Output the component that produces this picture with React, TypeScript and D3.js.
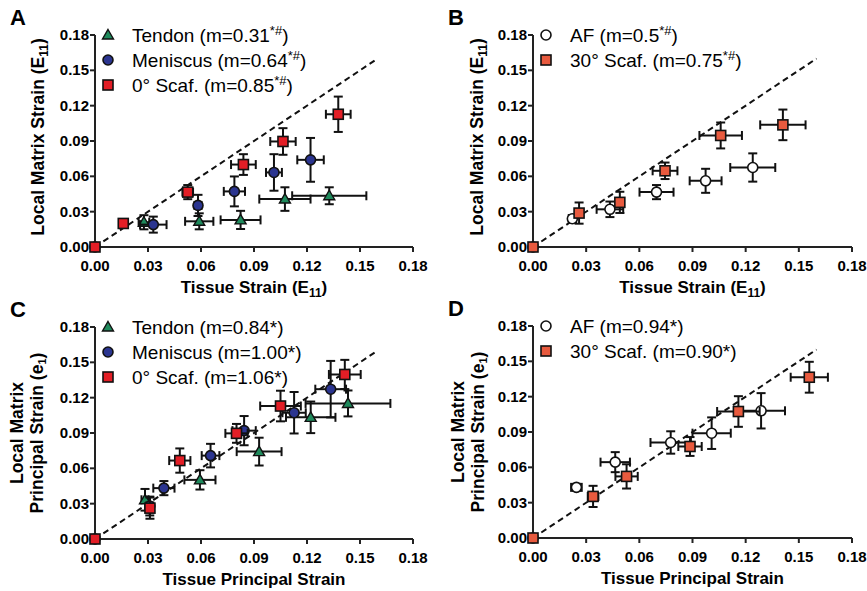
import React from 'react';
import * as d3 from 'd3';

// each point: [x, y, xErr, yErr]
type Pt = [number, number, number, number];

const tickValues = [0, 0.03, 0.06, 0.09, 0.12, 0.15, 0.18];

// panel A: tissue vs local matrix strain (E11)
const tendonA: Pt[] = [
  [0.0277, 0.021, 0.003, 0.006],
  [0.059, 0.0218, 0.008, 0.0068],
  [0.0824, 0.023, 0.0113, 0.0077],
  [0.1075, 0.0407, 0.0145, 0.01],
  [0.1326, 0.0435, 0.021, 0.0072],
];
const meniscusA: Pt[] = [
  [0, 0, 0, 0],
  [0.033, 0.019, 0.0075, 0.0068],
  [0.0583, 0.0353, 0.002, 0.009],
  [0.0789, 0.0472, 0.006, 0.0127],
  [0.1013, 0.0633, 0.0045, 0.0155],
  [0.122, 0.074, 0.0075, 0.0186],
];
const scaf0A: Pt[] = [
  [0, 0, 0, 0],
  [0.016, 0.02, 0.002, 0.002],
  [0.0525, 0.0466, 0.003, 0.006],
  [0.084, 0.07, 0.007, 0.0088],
  [0.1064, 0.0896, 0.0072, 0.0113],
  [0.1377, 0.1127, 0.007, 0.015],
];

// panel B
const afB: Pt[] = [
  [0, 0, 0, 0],
  [0.0222, 0.024, 0.002, 0.003],
  [0.0434, 0.032, 0.0075, 0.0066],
  [0.0697, 0.0466, 0.0096, 0.006],
  [0.0974, 0.0562, 0.009, 0.0102],
  [0.124, 0.0675, 0.0127, 0.012],
];
const scaf30B: Pt[] = [
  [0, 0, 0, 0],
  [0.026, 0.0288, 0.002, 0.009],
  [0.049, 0.0379, 0.002, 0.009],
  [0.0745, 0.0647, 0.007, 0.007],
  [0.1059, 0.0947, 0.012, 0.011],
  [0.141, 0.1037, 0.0128, 0.013],
];

// panel C: principal strain
const tendonC: Pt[] = [
  [0.0283, 0.0333, 0.002, 0.0092],
  [0.0594, 0.0502, 0.0088, 0.0082],
  [0.0929, 0.0742, 0.0127, 0.0118],
  [0.1221, 0.1033, 0.014, 0.0134],
  [0.1432, 0.1151, 0.024, 0.011],
];
const meniscusC: Pt[] = [
  [0, 0, 0, 0],
  [0.031, 0.028, 0.002, 0.008],
  [0.039, 0.0432, 0.006, 0.006],
  [0.0654, 0.0708, 0.005, 0.01],
  [0.0844, 0.092, 0.0066, 0.0124],
  [0.1127, 0.1072, 0.0066, 0.0176],
  [0.1334, 0.1272, 0.0087, 0.024],
];
const scaf0C: Pt[] = [
  [0, 0, 0, 0],
  [0.0311, 0.0262, 0.002, 0.009],
  [0.048, 0.0666, 0.006, 0.0103],
  [0.0801, 0.0897, 0.0063, 0.008],
  [0.105, 0.1129, 0.0115, 0.013],
  [0.1414, 0.1397, 0.009, 0.0124],
];

// panel D
const afD: Pt[] = [
  [0, 0, 0, 0],
  [0.0245, 0.043, 0.003, 0.003],
  [0.0464, 0.0644, 0.0083, 0.0085],
  [0.0777, 0.0811, 0.0114, 0.0095],
  [0.1008, 0.089, 0.0108, 0.0134],
  [0.1287, 0.108, 0.0135, 0.015],
];
const scaf30D: Pt[] = [
  [0, 0, 0, 0],
  [0.0339, 0.0353, 0.003, 0.009],
  [0.0528, 0.0523, 0.0063, 0.0103],
  [0.0886, 0.0777, 0.0066, 0.008],
  [0.1159, 0.1074, 0.012, 0.013],
  [0.1559, 0.1365, 0.0105, 0.0131],
];

const identityLine: [number, number][] = [[0, 0], [0.16, 0.16]];

const FONT = '"Liberation Sans", Arial, sans-serif';
const RED = '#e31e26';
const BLUE = '#2b3590';
const GREEN = '#1f8a5c';
const ORANGE = '#e85a3e';

type Shape = 'square' | 'circle' | 'triangle';

function Marker({ shape, fill, x, y }: { shape: Shape; fill: string; x: number; y: number }) {
  if (shape === 'square')
    return <rect x={x - 5} y={y - 5} width={10} height={10} fill={fill} stroke="#111" strokeWidth={1.6} />;
  if (shape === 'circle')
    return <circle cx={x} cy={y} r={5} fill={fill} stroke="#111" strokeWidth={1.6} />;
  return <path d={`M${x},${y - 5.5}L${x + 5.5},${y + 4}L${x - 5.5},${y + 4}Z`} fill={fill} stroke="#111" strokeWidth={1.4} />;
}

type Series = { name: React.ReactNode; shape: Shape; fill: string; data: Pt[] };

function Panel({ letter, left, right, top, bottom, series, xTitle, yTitle }: {
  letter: string; left: number; right: number; top: number; bottom: number;
  series: Series[]; xTitle: React.ReactNode; yTitle: React.ReactNode;
}) {
  const x = d3.scaleLinear().domain([0, 0.18]).range([left, right]);
  const y = d3.scaleLinear().domain([0, 0.18]).range([bottom, top]);
  const fmt = d3.format('.2f');
  const line = d3.line<[number, number]>().x(d => x(d[0])).y(d => y(d[1]));
  const cap = 4.5;

  return (
    <g fontFamily={FONT}>
      <text x={left - 85} y={top - 10} fontSize={22} fontWeight="bold">{letter}</text>
      {/* axes */}
      <line x1={left} x2={left} y1={top} y2={bottom} stroke="#222" strokeWidth={2} />
      <line x1={left} x2={right} y1={bottom} y2={bottom} stroke="#222" strokeWidth={2} />
      {tickValues.map(t => (
        <g key={'y' + t}>
          <line x1={left - 5} x2={left} y1={y(t)} y2={y(t)} stroke="#222" strokeWidth={2} />
          <text x={left - 6} y={y(t) + 5} textAnchor="end" fontSize={15} fontWeight="bold">{fmt(t)}</text>
        </g>
      ))}
      {tickValues.map(t => (
        <g key={'x' + t}>
          <line x1={x(t)} x2={x(t)} y1={bottom} y2={bottom + 5} stroke="#222" strokeWidth={2} />
          <text x={x(t)} y={bottom + 24} textAnchor="middle" fontSize={15} fontWeight="bold">{fmt(t)}</text>
        </g>
      ))}
      <path d={line(identityLine) || ''} fill="none" stroke="#111" strokeWidth={2} strokeDasharray="6,4" />
      {/* data, first series at the back */}
      {series.map((s, si) => (
        <g key={si}>
          {s.data.map((d, i) => {
            const cx = x(d[0]), cy = y(d[1]);
            const x1 = x(d[0] - d[2]), x2 = x(d[0] + d[2]);
            const y1 = y(d[1] - d[3]), y2 = y(d[1] + d[3]);
            return (
              <g key={i} stroke="#111" strokeWidth={2}>
                {d[2] > 0 && <>
                  <line x1={x1} x2={x2} y1={cy} y2={cy} />
                  <line x1={x1} x2={x1} y1={cy - cap} y2={cy + cap} />
                  <line x1={x2} x2={x2} y1={cy - cap} y2={cy + cap} />
                </>}
                {d[3] > 0 && <>
                  <line x1={cx} x2={cx} y1={y1} y2={y2} />
                  <line x1={cx - cap} x2={cx + cap} y1={y1} y2={y1} />
                  <line x1={cx - cap} x2={cx + cap} y1={y2} y2={y2} />
                </>}
              </g>
            );
          })}
          {s.data.map((d, i) => (
            <Marker key={'m' + i} shape={s.shape} fill={s.fill} x={x(d[0])} y={y(d[1])} />
          ))}
        </g>
      ))}
      {/* legend */}
      {series.map((s, i) => (
        <g key={'l' + i}>
          <Marker shape={s.shape} fill={s.fill} x={left + 13} y={top + i * 25} />
          <text x={left + 37} y={top + i * 25 + 7} fontSize={19}>{s.name}</text>
        </g>
      ))}
      <text x={(left + right) / 2} y={bottom + 46} textAnchor="middle" fontSize={17} fontWeight="bold">{xTitle}</text>
      {yTitle}
    </g>
  );
}

const sup = (s: string) => <tspan fontSize={13} dy={-7}>{s}</tspan>;
const after = (s: string) => <tspan dy={7}>{s}</tspan>;
const E11 = <>(E<tspan fontSize={12} dy={4}>11</tspan><tspan dy={-4}>)</tspan></>;

function YTitleOne({ cx, cy }: { cx: number; cy: number }) {
  return (
    <text transform={`translate(${cx},${cy}) rotate(-90)`} textAnchor="middle" fontSize={17.5} fontWeight="bold" dy={6}>
      Local Matrix Strain {E11}
    </text>
  );
}

function YTitleTwo({ cx1, cx2, cy }: { cx1: number; cx2: number; cy: number }) {
  return (
    <g fontSize={17.5} fontWeight="bold">
      <text transform={`translate(${cx1},${cy}) rotate(-90)`} textAnchor="middle" dy={6}>Local Matrix</text>
      <text transform={`translate(${cx2},${cy}) rotate(-90)`} textAnchor="middle" dy={6}>
        Principal Strain (e<tspan fontSize={11} dy={3}>1</tspan><tspan dy={-3}>)</tspan>
      </text>
    </g>
  );
}

export default function App() {
  return (
    <svg width={867} height={591} style={{ position: 'absolute', left: 0, top: 0, background: '#fff' }}>
      <Panel letter="A" left={95} right={413} top={35} bottom={247}
        xTitle={<>Tissue Strain {E11}</>}
        yTitle={<YTitleOne cx={38} cy={137} />}
        series={[
          { name: <>Tendon (m=0.31{sup('*#')}{after(')')}</>, shape: 'triangle', fill: GREEN, data: tendonA },
          { name: <>Meniscus (m=0.64{sup('*#')}{after(')')}</>, shape: 'circle', fill: BLUE, data: meniscusA },
          { name: <>0° Scaf. (m=0.85{sup('*#')}{after(')')}</>, shape: 'square', fill: RED, data: scaf0A },
        ]} />
      <Panel letter="B" left={533} right={852} top={35} bottom={247}
        xTitle={<>Tissue Strain {E11}</>}
        yTitle={<YTitleOne cx={477} cy={137} />}
        series={[
          { name: <>AF (m=0.5{sup('*#')}{after(')')}</>, shape: 'circle', fill: '#fff', data: afB },
          { name: <>30° Scaf. (m=0.75{sup('*#')}{after(')')}</>, shape: 'square', fill: ORANGE, data: scaf30B },
        ]} />
      <Panel letter="C" left={95} right={413} top={327} bottom={539}
        xTitle="Tissue Principal Strain"
        yTitle={<YTitleTwo cx1={17} cx2={37} cy={433} />}
        series={[
          { name: 'Tendon (m=0.84*)', shape: 'triangle', fill: GREEN, data: tendonC },
          { name: 'Meniscus (m=1.00*)', shape: 'circle', fill: BLUE, data: meniscusC },
          { name: '0° Scaf. (m=1.06*)', shape: 'square', fill: RED, data: scaf0C },
        ]} />
      <Panel letter="D" left={533} right={852} top={326} bottom={538}
        xTitle="Tissue Principal Strain"
        yTitle={<YTitleTwo cx1={458} cx2={478} cy={432} />}
        series={[
          { name: 'AF (m=0.94*)', shape: 'circle', fill: '#fff', data: afD },
          { name: '30° Scaf. (m=0.90*)', shape: 'square', fill: ORANGE, data: scaf30D },
        ]} />
    </svg>
  );
}
